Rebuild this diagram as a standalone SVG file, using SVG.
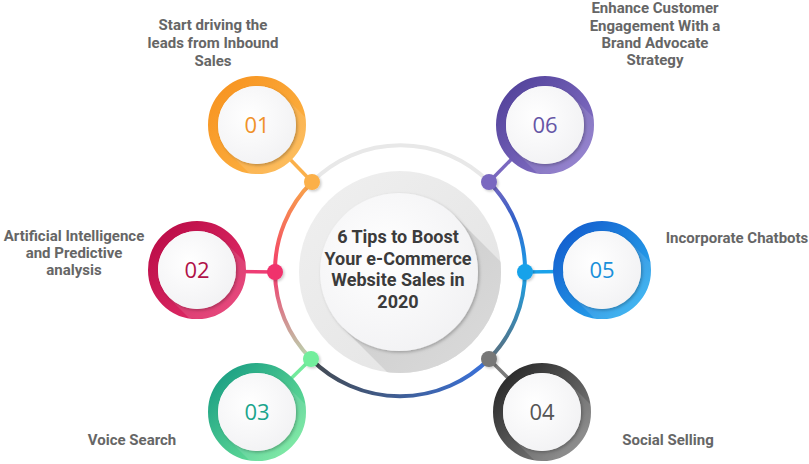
<svg xmlns="http://www.w3.org/2000/svg" width="809" height="464" viewBox="0 0 809 464">
<style>
.lbl{font-family:Roboto,"Liberation Sans",Arial,sans-serif;font-weight:700;font-size:15px;fill:#666;text-anchor:middle}
.title{font-family:Roboto,"Liberation Sans",Arial,sans-serif;font-weight:700;font-size:18px;fill:#3b3b3b;text-anchor:middle}
.num{font-family:"Open Sans","Liberation Sans",Arial,sans-serif;font-weight:400;font-size:22px;text-anchor:middle}
.arc{fill:none;stroke-width:4}
.conn{stroke-width:3.5}
</style>
<defs>
<clipPath id="nodeClip"><circle r="49"/></clipPath>
<clipPath id="discClip"><circle cx="400" cy="272" r="101"/></clipPath>
<filter id="sh" x="-30%" y="-30%" width="160%" height="160%"><feDropShadow dx="1.5" dy="1.5" stdDeviation="1.5" flood-color="#000" flood-opacity="0.25"/></filter>
<filter id="dsh" x="-50%" y="-50%" width="200%" height="200%"><feDropShadow dx="1.5" dy="1.5" stdDeviation="1" flood-color="#000" flood-opacity="0.2"/></filter>
<radialGradient id="inner" cx="0.4" cy="0.4" r="0.7"><stop offset="0" stop-color="#ffffff"/><stop offset="1" stop-color="#f1f1f3"/></radialGradient>
<linearGradient id="disc" x1="0" y1="0" x2="1" y2="1"><stop offset="0" stop-color="#f0f0f0"/><stop offset="1" stop-color="#e2e2e2"/></linearGradient>
<linearGradient id="lshadow" x1="343" y1="216" x2="520" y2="393" gradientUnits="userSpaceOnUse"><stop offset="0" stop-color="#c8c8c8"/><stop offset="1" stop-color="#dedede"/></linearGradient>
<linearGradient id="g1" x1="0" y1="0" x2="1" y2="1"><stop offset="0" stop-color="#f7921e"/><stop offset="1" stop-color="#fdb74a"/></linearGradient>
<linearGradient id="g6" x1="0" y1="0" x2="1" y2="1"><stop offset="0" stop-color="#4f3f98"/><stop offset="1" stop-color="#8c78cc"/></linearGradient>
<linearGradient id="g2" x1="0" y1="0" x2="1" y2="1"><stop offset="0" stop-color="#b80a45"/><stop offset="1" stop-color="#e8336e"/></linearGradient>
<linearGradient id="g5" x1="0" y1="0" x2="1" y2="1"><stop offset="0" stop-color="#1258cc"/><stop offset="1" stop-color="#2ab3f2"/></linearGradient>
<linearGradient id="g3" x1="0" y1="0" x2="1" y2="1"><stop offset="0" stop-color="#159a82"/><stop offset="1" stop-color="#77ee9c"/></linearGradient>
<linearGradient id="g4" x1="0" y1="0" x2="1" y2="1"><stop offset="0" stop-color="#222"/><stop offset="1" stop-color="#8a8a8a"/></linearGradient>
<linearGradient id="a12" x1="0" y1="182" x2="0" y2="272" gradientUnits="userSpaceOnUse"><stop offset="0" stop-color="#f9a848"/><stop offset="1" stop-color="#f2386c"/></linearGradient>
<linearGradient id="a23" x1="0" y1="272" x2="0" y2="359" gradientUnits="userSpaceOnUse"><stop offset="0" stop-color="#f2386c"/><stop offset="1" stop-color="#b8d8b0"/></linearGradient>
<linearGradient id="a34" x1="311" y1="0" x2="489" y2="0" gradientUnits="userSpaceOnUse"><stop offset="0" stop-color="#444a50"/><stop offset="1" stop-color="#3a72dc"/></linearGradient>
<linearGradient id="a45" x1="0" y1="359" x2="0" y2="272" gradientUnits="userSpaceOnUse"><stop offset="0" stop-color="#5a6e7c"/><stop offset="1" stop-color="#1aa2ea"/></linearGradient>
<linearGradient id="a56" x1="0" y1="272" x2="0" y2="182" gradientUnits="userSpaceOnUse"><stop offset="0" stop-color="#1aa2ea"/><stop offset="0.6" stop-color="#3460c8"/><stop offset="1" stop-color="#7a68c0"/></linearGradient>
</defs>
<rect width="809" height="464" fill="#fff"/>

<g id="center">
<circle cx="400" cy="272" r="101" fill="url(#disc)"/>
<polygon clip-path="url(#discClip)" points="455,216 600,361 488,473 343,328" fill="url(#lshadow)"/>
<circle cx="399" cy="272" r="79" fill="url(#inner)" filter="url(#sh)"/>
<text class="title" x="398" y="243">6 Tips to Boost</text>
<text class="title" x="398" y="264.5">Your e-Commerce</text>
<text class="title" x="398" y="286">Website Sales in</text>
<text class="title" x="398" y="307.5">2020</text>
</g>

<g id="connectors">
<path class="arc" stroke="#e8e8e8" d="M312,182 A125,125 0 0 1 489,182"/>
<path class="arc" stroke="url(#a12)" d="M312,182 A125,125 0 0 0 275,272"/>
<path class="arc" stroke="url(#a23)" d="M275,272 A125,125 0 0 0 311,359"/>
<path class="arc" stroke="url(#a34)" d="M311,359 A125,125 0 0 0 489,359"/>
<path class="arc" stroke="url(#a45)" d="M489,359 A125,125 0 0 0 525,272"/>
<path class="arc" stroke="url(#a56)" d="M525,272 A125,125 0 0 0 489,182"/>
<line class="conn" x1="257" y1="125" x2="312" y2="182" stroke="#fbb04a"/>
<line class="conn" x1="545" y1="125" x2="489" y2="182" stroke="#7a68c0"/>
<line class="conn" x1="197" y1="271" x2="275" y2="272" stroke="#ee3d74"/>
<line class="conn" x1="602" y1="271" x2="525" y2="272" stroke="#1aa2ea"/>
<line class="conn" x1="257" y1="412" x2="311" y2="359" stroke="#72ea9c"/>
<line class="conn" x1="542" y1="412" x2="489" y2="359" stroke="#7a7a7a"/>
<circle cx="312" cy="182" r="8" fill="#fbb04a" filter="url(#dsh)"/>
<circle cx="489" cy="182" r="8" fill="#7a68c0" filter="url(#dsh)"/>
<circle cx="275" cy="272" r="8" fill="#f0306c" filter="url(#dsh)"/>
<circle cx="525" cy="272" r="8" fill="#18a2ea" filter="url(#dsh)"/>
<circle cx="311" cy="359" r="8" fill="#72ee9c" filter="url(#dsh)"/>
<circle cx="489" cy="359" r="8" fill="#777" filter="url(#dsh)"/>
</g>

<g id="node01" transform="translate(257,125)">
<circle r="44" fill="none" stroke="url(#g1)" stroke-width="10"/>
<polygon clip-path="url(#nodeClip)" points="28,-28 100,44 44,100 -28,28" fill="#fff" opacity="0.12"/>
<circle r="39" fill="url(#inner)" filter="url(#sh)"/>
<text class="num" y="8" fill="#f0922a">01</text>
</g>
<g id="node06" transform="translate(545,125)">
<circle r="44" fill="none" stroke="url(#g6)" stroke-width="10"/>
<polygon clip-path="url(#nodeClip)" points="28,-28 100,44 44,100 -28,28" fill="#fff" opacity="0.12"/>
<circle r="39" fill="url(#inner)" filter="url(#sh)"/>
<text class="num" y="8" fill="#6656a6">06</text>
</g>
<g id="node02" transform="translate(197,270)">
<circle r="44" fill="none" stroke="url(#g2)" stroke-width="10"/>
<polygon clip-path="url(#nodeClip)" points="28,-28 100,44 44,100 -28,28" fill="#fff" opacity="0.12"/>
<circle r="39" fill="url(#inner)" filter="url(#sh)"/>
<text class="num" y="8" fill="#b01248">02</text>
</g>
<g id="node05" transform="translate(602,270)">
<circle r="44" fill="none" stroke="url(#g5)" stroke-width="10"/>
<polygon clip-path="url(#nodeClip)" points="28,-28 100,44 44,100 -28,28" fill="#fff" opacity="0.12"/>
<circle r="39" fill="url(#inner)" filter="url(#sh)"/>
<text class="num" y="8" fill="#1a90da">05</text>
</g>
<g id="node03" transform="translate(257,412)">
<circle r="44" fill="none" stroke="url(#g3)" stroke-width="10"/>
<polygon clip-path="url(#nodeClip)" points="28,-28 100,44 44,100 -28,28" fill="#fff" opacity="0.12"/>
<circle r="39" fill="url(#inner)" filter="url(#sh)"/>
<text class="num" y="8" fill="#1aa58c">03</text>
</g>
<g id="node04" transform="translate(542,412)">
<circle r="44" fill="none" stroke="url(#g4)" stroke-width="10"/>
<polygon clip-path="url(#nodeClip)" points="28,-28 100,44 44,100 -28,28" fill="#fff" opacity="0.12"/>
<circle r="39" fill="url(#inner)" filter="url(#sh)"/>
<text class="num" y="8" fill="#555">04</text>
</g>

<g id="labels">
<text class="lbl" x="213" y="30">Start driving the</text>
<text class="lbl" x="213" y="48">leads from Inbound</text>
<text class="lbl" x="213" y="65.5">Sales</text>
<text class="lbl" x="655" y="13">Enhance Customer</text>
<text class="lbl" x="655" y="30.5">Engagement With a</text>
<text class="lbl" x="655" y="48">Brand Advocate</text>
<text class="lbl" x="655" y="65">Strategy</text>
<text class="lbl" x="74" y="241">Artificial Intelligence</text>
<text class="lbl" x="74" y="258">and Predictive</text>
<text class="lbl" x="74" y="275">analysis</text>
<text class="lbl" x="737" y="243">Incorporate Chatbots</text>
<text class="lbl" x="132" y="445">Voice Search</text>
<text class="lbl" x="668" y="445">Social Selling</text>
</g>
</svg>
